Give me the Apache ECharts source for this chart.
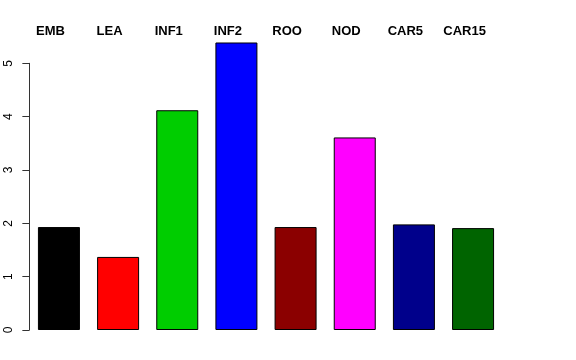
<!DOCTYPE html>
<html>
<head>
<meta charset="utf-8">
<script src="https://cdn.jsdelivr.net/npm/echarts@6/dist/echarts.min.js"></script>
<style>html,body{margin:0;padding:0;background:#fff}#c{width:576px;height:360px}</style>
</head>
<body>
<div id="c"></div>
<script>
var categories = ['EMB', 'LEA', 'INF1', 'INF2', 'ROO', 'NOD', 'CAR5', 'CAR15'];
var values = [1.93, 1.37, 4.12, 5.39, 1.93, 3.61, 1.98, 1.91];
var colors = ['#000000', '#FF0000', '#00CD00', '#0000FF', '#8B0000', '#FF00FF', '#00008B', '#006400'];
var yTicks = [0, 1, 2, 3, 4, 5];

var chart = echarts.init(document.getElementById('c'), null, {renderer: 'canvas'});
chart.setOption({
  animation: false,
  backgroundColor: '#ffffff',
  grid: {left: 29.35, right: 73.35, top: 63.3, bottom: 30, containLabel: false},
  xAxis: [
    {type: 'category', data: categories, position: 'bottom', show: false},
    {type: 'category', data: categories, position: 'top',
      axisLine: {show: false}, axisTick: {show: false},
      axisLabel: {fontFamily: 'Liberation Sans', fontWeight: 'bold', fontSize: 13, color: '#000',
        margin: 25, padding: [0, 17, 0, 0]}}
  ],
  yAxis: {
    type: 'value', min: yTicks[0], max: yTicks[yTicks.length - 1], interval: 1,
    axisLine: {show: true, lineStyle: {color: '#333', width: 1}},
    axisTick: {show: true, length: 7, lineStyle: {color: '#333', width: 1}},
    splitLine: {show: false},
    axisLabel: {rotate: 90, margin: 15, fontFamily: 'Liberation Sans', fontSize: 12, color: '#000'}
  },
  series: [{
    type: 'bar', xAxisIndex: 0, barWidth: 42, clip: false,
    data: values.map(function (v, i) {
      return {value: v, itemStyle: {color: colors[i], borderColor: '#000', borderWidth: 1}};
    })
  }]
});
</script>
</body>
</html>
